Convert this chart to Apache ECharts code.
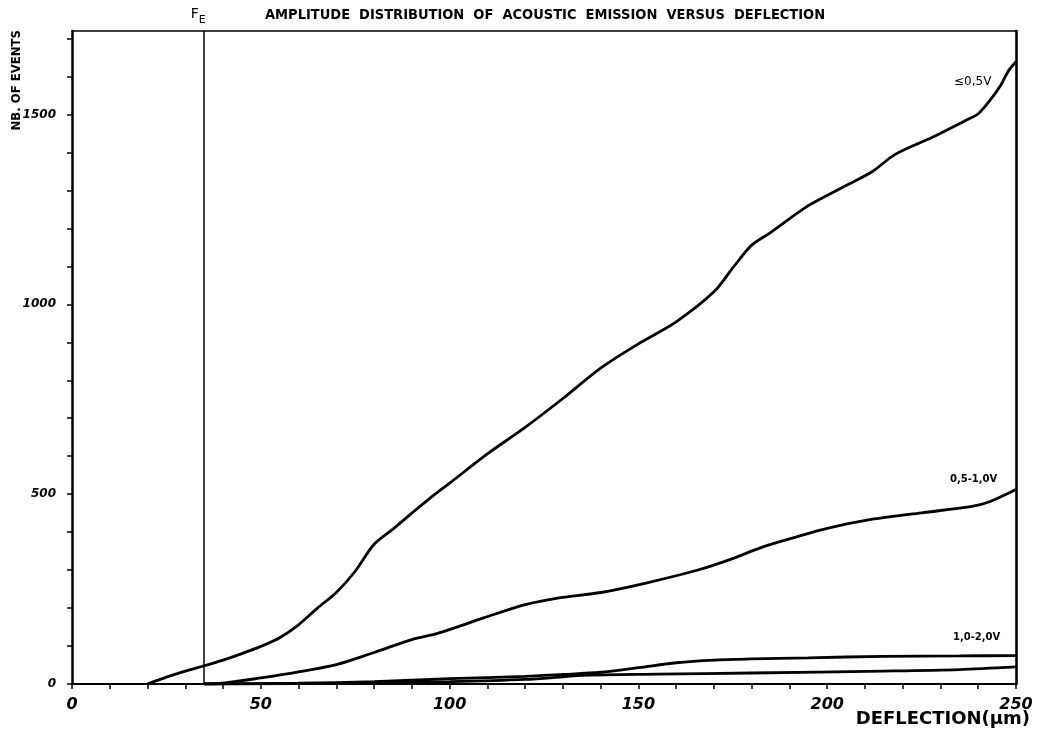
<!DOCTYPE html>
<html>
<head>
<meta charset="utf-8">
<script src="https://cdn.jsdelivr.net/npm/echarts@6/dist/echarts.min.js"></script>
<style>
html,body{margin:0;padding:0;background:#fff;}
#chart{width:1039px;height:742px;}
</style>
</head>
<body>
<div id="chart"></div>
<script>
// ---- data (deflection in µm, number of events) ----
const titleText = "AMPLITUDE  DISTRIBUTION  OF  ACOUSTIC  EMISSION  VERSUS  DEFLECTION";
const xName = "DEFLECTION(µm)";
const yName = "NB. OF EVENTS";
const feValue = 35;
const feLabel = "F";
const feSub = "E";
const xTickLabels = [0, 50, 100, 150, 200, 250];
const yTickLabels = [0, 500, 1000, 1500];

const seriesNames = ["≤0,5V", "0,5-1,0V", "1,0-2,0V", ">2,0V"];
const lowAmp = [[20,0],[25,18],[30,34],[35,48],[40,63],[45,80],[50,99],[55,122],[60,156],[65,200],[70,241],[75,297],[80,368],[85,408],[90,450],[95,491],[100,529],[110,606],[120,676],[130,752],[140,832],[150,896],[160,954],[170,1033],[175,1096],[180,1156],[185,1189],[195,1260],[205,1313],[212,1350],[218,1395],[228,1441],[237,1486],[240,1502],[243,1536],[246,1578],[248,1615],[250,1639]];
const midAmp = [[35,0],[40,2],[50,16],[60,32],[70,51],[80,83],[90,117],[97,134],[109,174],[120,209],[129,227],[140,241],[152,266],[166,301],[174,327],[183,361],[191,385],[200,410],[212,434],[225,451],[238,467],[243,480],[250,512]];
const highAmp = [[35,0],[60,2],[80,6],[100,14],[120,20],[130,25],[140,31],[150,43],[160,56],[170,63],[180,66],[195,69],[215,73],[235,74],[250,75]];
const topAmp = [[35,0],[60,1],[80,3],[100,6],[120,12],[130,19],[135,23],[155,26],[180,29],[215,34],[235,38],[250,45]];

const chart = echarts.init(document.getElementById('chart'), null, {renderer:'canvas'});
const black = '#000';
const lineW = 2.8;

function mkSeries(name, data, labelCfg) {
  const s = {
    name: name,
    type: 'line',
    data: data,
    smooth: 0.3,
    symbol: 'none',
    lineStyle: {color: black, width: lineW},
    itemStyle: {color: black},
    z: 3
  };
  if (labelCfg) {
    s.endLabel = Object.assign({show: true, formatter: name, color: '#000'}, labelCfg);
  }
  return s;
}

const series = [
  mkSeries(seriesNames[0], lowAmp, {fontSize: 12, fontFamily: 'DejaVu Sans', offset: [-70, 20]}),
  mkSeries(seriesNames[1], midAmp, {fontSize: 10, fontWeight: 'bold', fontFamily: 'DejaVu Sans', offset: [-74, -10]}),
  mkSeries(seriesNames[2], highAmp, {fontSize: 10, fontWeight: 'bold', fontFamily: 'DejaVu Sans', offset: [-71, -18]}),
  mkSeries(seriesNames[3], topAmp, null)
];
series[0].markLine = {
  silent: true,
  symbol: 'none',
  animation: false,
  lineStyle: {color: black, width: 1.5, type: 'solid'},
  label: {
    show: true,
    position: 'end',
    offset: [-6, 0],
    formatter: '{f|' + feLabel + '}{e|' + feSub + '}',
    rich: {
      f: {fontSize: 14, fontFamily: 'DejaVu Sans', color: '#000'},
      e: {fontSize: 11, fontFamily: 'DejaVu Sans', color: '#000', padding: [12, 0, 0, 0]}
    }
  },
  data: [{xAxis: feValue}]
};

const option = {
  animation: false,
  backgroundColor: '#fff',
  title: {
    text: titleText,
    left: 260,
    top: 3,
    textStyle: {fontSize: 14.5, fontWeight: 'bold', fontFamily: 'DejaVu Sans Condensed, DejaVu Sans', color: '#000'}
  },
  grid: {left: 72, right: 23, top: 31, bottom: 58, containLabel: false, outerBoundsMode: 'none'},
  xAxis: [{
    type: 'value', min: 0, max: 250, interval: 10,
    axisLine: {show: true, onZero: false, lineStyle: {color: black, width: 2.2}},
    axisTick: {show: true, length: 5, lineStyle: {color: black, width: 1.5}},
    axisLabel: {
      margin: 13, fontSize: 16, fontWeight: 'bold', fontFamily: 'DejaVu Sans', fontStyle: 'italic', color: '#000',
      formatter: v => xTickLabels.indexOf(v) >= 0 ? String(v) : ''
    },
    splitLine: {show: false}
  }, {
    type: 'value', min: 0, max: 250, position: 'top',
    axisLine: {show: true, onZero: false, lineStyle: {color: black, width: 1.6}},
    axisTick: {show: false}, axisLabel: {show: false}, splitLine: {show: false}
  }],
  yAxis: [{
    type: 'value', min: 0, max: 1720, interval: 100,
    axisLine: {show: true, onZero: false, lineStyle: {color: black, width: 2.5}},
    axisTick: {show: true, length: 5, lineStyle: {color: black, width: 1.5}},
    axisLabel: {
      margin: 16, fontSize: 12, fontWeight: 'bold', fontFamily: 'DejaVu Sans', fontStyle: 'italic', color: '#000',
      showMaxLabel: false,
      formatter: v => yTickLabels.indexOf(v) >= 0 ? String(v) : ''
    },
    splitLine: {show: false}
  }, {
    type: 'value', min: 0, max: 1720, position: 'right',
    axisLine: {show: true, onZero: false, lineStyle: {color: black, width: 2.6}},
    axisTick: {show: false}, axisLabel: {show: false}, splitLine: {show: false}
  }],
  graphic: [{
    type: 'text',
    left: 10, top: 30,
    rotation: Math.PI / 2,
    style: {text: yName, fontSize: 13, fontWeight: 'bold', fontFamily: 'DejaVu Sans Condensed, DejaVu Sans', fill: '#000'}
  }, {
    type: 'text',
    right: 9, top: 710,
    style: {text: xName, fontSize: 18, fontWeight: 'bold', fontFamily: 'DejaVu Sans', fill: '#000'}
  }],
  series: series
};
chart.setOption(option);
</script>
</body>
</html>
